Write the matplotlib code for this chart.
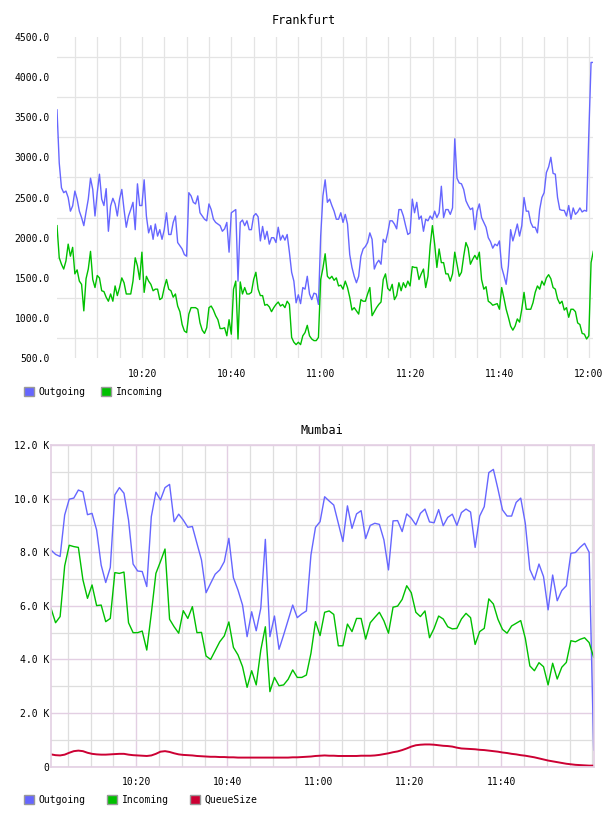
import matplotlib
matplotlib.use('Agg')
import matplotlib.pyplot as plt
import matplotlib.dates as mdates
from matplotlib.patches import Patch
from matplotlib.ticker import MultipleLocator, FuncFormatter, FixedLocator
import pandas as pd

# Frankfurt, sampled every 30 s
fra_time = pd.date_range('2024-01-01 10:00:58', periods=241, freq='30s')
fra_out = [
    3590, 2930, 2620, 2560, 2580, 2500, 2330, 2395, 2580, 2480,
    2330, 2250, 2150, 2320, 2480, 2740, 2600, 2270, 2560, 2790,
    2480, 2400, 2610, 2080, 2395, 2490, 2420, 2270, 2480, 2600,
    2350, 2130, 2270, 2350, 2440, 2100, 2670, 2400, 2400, 2720,
    2270, 2060, 2150, 1980, 2170, 2020, 2100, 1980, 2100, 2310,
    2040, 2040, 2190, 2270, 1940, 1900, 1860, 1790, 1770, 2560,
    2520, 2440, 2420, 2520, 2310, 2270, 2230, 2210, 2420, 2350,
    2230, 2190, 2170, 2150, 2080, 2110, 2190, 1820, 2310, 2330,
    2350, 1460, 2190, 2220, 2150, 2210, 2100, 2100, 2270, 2300,
    2260, 1960, 2140, 1980, 2080, 1920, 2000, 2000, 1940, 2130,
    1970, 2030, 1970, 2040, 1820, 1570, 1460, 1190, 1290, 1180,
    1380, 1360, 1520, 1300, 1230, 1310, 1300, 1170, 2020, 2520,
    2720, 2440, 2480, 2400, 2330, 2230, 2230, 2310, 2190, 2290,
    2170, 1790, 1630, 1520, 1440, 1520, 1770, 1860, 1890, 1940,
    2060, 1980, 1610, 1680, 1720, 1670, 1980, 1940, 2060, 2210,
    2210, 2170, 2110, 2350, 2350, 2270, 2150, 2040, 2060, 2480,
    2310, 2440, 2230, 2270, 2080, 2230, 2210, 2270, 2230, 2330,
    2250, 2310, 2640, 2250, 2350, 2350, 2290, 2370, 3230, 2740,
    2680, 2670, 2600, 2460, 2400, 2350, 2370, 2100, 2330, 2420,
    2250, 2190, 2130, 2000, 1950, 1870, 1920, 1900, 1960, 1630,
    1530, 1420, 1650, 2100, 1960, 2060, 2170, 2020, 2150, 2500,
    2330, 2330, 2190, 2130, 2130, 2060, 2350, 2500, 2560, 2810,
    2880, 3000, 2800, 2790, 2500, 2350, 2340, 2340, 2270, 2400,
    2230, 2370, 2290, 2320, 2370, 2320, 2340, 2330, 3300, 4180, 4180,
]
fra_in = [
    2150, 1750, 1670, 1610, 1710, 1920, 1770, 1880, 1550, 1600,
    1460, 1420, 1090, 1490, 1610, 1830, 1480, 1380, 1530, 1500,
    1340, 1330, 1260, 1210, 1300, 1210, 1400, 1280, 1380, 1500,
    1440, 1300, 1300, 1300, 1460, 1750, 1650, 1480, 1820, 1320,
    1520, 1460, 1420, 1340, 1360, 1360, 1230, 1250, 1380, 1480,
    1360, 1340, 1260, 1300, 1150, 1080, 920, 840, 820, 1050,
    1130, 1130, 1130, 1110, 940, 850, 810, 880, 1130, 1150,
    1100, 1030, 980, 870, 870, 880, 780, 980, 800, 1360,
    1460, 740, 1450, 1300, 1380, 1300, 1300, 1320, 1480, 1570,
    1360, 1280, 1280, 1160, 1170, 1140, 1080, 1130, 1170, 1200,
    1150, 1170, 1130, 1210, 1170, 760, 700, 670, 700, 670,
    780, 820, 910, 780, 740, 720, 720, 760, 1480, 1620,
    1800, 1520, 1490, 1520, 1470, 1500, 1400, 1410, 1360, 1460,
    1380, 1260, 1100, 1130, 1090, 1050, 1230, 1210, 1210, 1300,
    1380, 1030, 1080, 1130, 1170, 1200, 1480, 1550, 1370, 1340,
    1420, 1230, 1280, 1440, 1340, 1440, 1380, 1460, 1400, 1640,
    1630, 1630, 1480, 1550, 1610, 1380, 1520, 1900, 2150, 1920,
    1630, 1860, 1690, 1690, 1550, 1550, 1460, 1550, 1820, 1670,
    1520, 1570, 1770, 1940, 1870, 1670, 1730, 1780, 1730, 1820,
    1480, 1360, 1390, 1210, 1190, 1160, 1170, 1180, 1110, 1380,
    1250, 1110, 1010, 900, 850, 900, 990, 950, 1110, 1320,
    1110, 1110, 1110, 1190, 1320, 1400, 1360, 1460, 1410, 1500,
    1540, 1490, 1380, 1360, 1240, 1180, 1210, 1100, 1130, 1010,
    1110, 1110, 1080, 940, 920, 810, 800, 740, 780, 1690, 1830,
]

# Mumbai, sampled every minute, values in K
mum_time = pd.date_range('2024-01-01 10:01:18', periods=120, freq='60s')
mum_out = [
    8.08, 7.92, 7.84, 9.39, 9.98, 10.02, 10.32, 10.25, 9.40, 9.45,
    8.83, 7.52, 6.87, 7.43, 10.14, 10.41, 10.20, 9.20, 7.56, 7.30,
    7.28, 6.72, 9.33, 10.24, 9.95, 10.41, 10.53, 9.14, 9.42, 9.20,
    8.93, 8.96, 8.33, 7.71, 6.49, 6.84, 7.18, 7.34, 7.65, 8.52,
    7.05, 6.59, 6.03, 4.85, 5.78, 5.07, 5.91, 8.48, 4.85, 5.62,
    4.38, 4.91, 5.47, 6.03, 5.56, 5.70, 5.81, 7.90, 8.93, 9.14,
    10.07, 9.91, 9.76, 9.08, 8.40, 9.73, 8.89, 9.43, 9.55, 8.51,
    9.00, 9.08, 9.04, 8.46, 7.34, 9.17, 9.18, 8.77, 9.43, 9.27,
    9.02, 9.45, 9.61, 9.13, 9.10, 9.59, 8.99, 9.30, 9.42, 9.00,
    9.48, 9.61, 9.50, 8.18, 9.35, 9.70, 10.97, 11.09, 10.36, 9.58,
    9.35, 9.35, 9.86, 10.02, 9.08, 7.36, 6.97, 7.56, 7.09, 5.85,
    7.15, 6.19, 6.57, 6.75, 7.96, 7.99, 8.18, 8.33, 8.00, 0.62,
]
mum_in = [
    5.91, 5.37, 5.60, 7.49, 8.26, 8.21, 8.18, 6.97, 6.28, 6.78,
    6.01, 6.03, 5.41, 5.53, 7.24, 7.21, 7.26, 5.37, 5.00, 5.00,
    5.06, 4.35, 5.72, 7.21, 7.65, 8.12, 5.50, 5.22, 4.98, 5.82,
    5.53, 5.97, 5.00, 5.01, 4.13, 4.00, 4.33, 4.66, 4.88, 5.40,
    4.45, 4.17, 3.73, 2.96, 3.58, 3.05, 4.35, 5.22, 2.80, 3.33,
    3.02, 3.05, 3.26, 3.61, 3.33, 3.33, 3.42, 4.23, 5.41, 4.89,
    5.76, 5.81, 5.68, 4.51, 4.51, 5.32, 5.04, 5.53, 5.53, 4.76,
    5.37, 5.57, 5.76, 5.44, 4.98, 5.95, 5.99, 6.24, 6.75, 6.49,
    5.76, 5.60, 5.81, 4.81, 5.16, 5.62, 5.51, 5.22, 5.14, 5.16,
    5.51, 5.72, 5.56, 4.56, 5.04, 5.16, 6.26, 6.07, 5.50, 5.12,
    4.98, 5.25, 5.35, 5.45, 4.79, 3.76, 3.58, 3.88, 3.73, 3.05,
    3.86, 3.27, 3.71, 3.89, 4.70, 4.66, 4.75, 4.81, 4.63, 4.08,
]
mum_queue = [
    0.46, 0.43, 0.42, 0.45, 0.52, 0.58, 0.60, 0.58, 0.52, 0.48,
    0.46, 0.45, 0.45, 0.46, 0.47, 0.48, 0.48, 0.45, 0.43, 0.42,
    0.41, 0.40, 0.42, 0.48, 0.56, 0.58, 0.55, 0.50, 0.46, 0.44,
    0.43, 0.42, 0.40, 0.39, 0.38, 0.37, 0.37, 0.36, 0.36, 0.35,
    0.35, 0.34, 0.34, 0.34, 0.34, 0.34, 0.34, 0.34, 0.34, 0.34,
    0.34, 0.34, 0.34, 0.35, 0.35, 0.36, 0.37, 0.38, 0.40, 0.41,
    0.42, 0.41, 0.41, 0.40, 0.40, 0.40, 0.40, 0.40, 0.41, 0.41,
    0.41, 0.42, 0.44, 0.47, 0.50, 0.54, 0.57, 0.62, 0.68, 0.75,
    0.80, 0.82, 0.83, 0.83, 0.82, 0.80, 0.78, 0.77, 0.75, 0.71,
    0.68, 0.67, 0.66, 0.65, 0.63, 0.62, 0.60, 0.58, 0.56, 0.53,
    0.51, 0.48, 0.46, 0.43, 0.41, 0.38, 0.35, 0.31, 0.27, 0.23,
    0.20, 0.17, 0.14, 0.11, 0.09, 0.07, 0.06, 0.05, 0.04, 0.04,
]
mum_ticks = ['10:20', '10:40', '11:00', '11:20', '11:40']

BLUE = '#6666ff'
GREEN = '#00c000'
RED = '#cc0033'
GRID = '#e4e4e4'
PURPLE = '#e3cfe3'
MONO = 'DejaVu Sans Mono'

W, H = 608, 816
fig = plt.figure(figsize=(W / 100, H / 100), dpi=100)


def box(l, t, r, b):
    return [l / W, 1 - b / H, (r - l) / W, (b - t) / H]


# ---- Frankfurt ----
ax1 = fig.add_axes(box(57, 36.7, 593.3, 358.3))
ax1.plot(fra_time, fra_out, color=BLUE, lw=1.0)
ax1.plot(fra_time, fra_in, color=GREEN, lw=1.0)
ax1.set_xlim(fra_time[0], fra_time[-1])
ax1.set_ylim(500, 4500)
ax1.yaxis.set_major_locator(MultipleLocator(500))
ax1.yaxis.set_major_formatter(FuncFormatter(lambda v, p: '%.1f' % v))
ax1.yaxis.set_minor_locator(MultipleLocator(500, offset=250))
ax1.xaxis.set_major_locator(mdates.MinuteLocator(byminute=[0, 20, 40]))
ax1.xaxis.set_minor_locator(mdates.MinuteLocator(byminute=range(0, 60, 5)))
ax1.xaxis.set_major_formatter(mdates.DateFormatter('%H:%M'))
ax1.grid(True, axis='x', which='both', color=GRID, lw=0.9)
ax1.grid(True, axis='y', which='minor', color=GRID, lw=0.9)
ax1.set_axisbelow(True)
for s in ax1.spines.values():
    s.set_visible(False)
ax1.tick_params(which='both', length=0)
ax1.tick_params(axis='y', pad=5)
ax1.tick_params(axis='x', pad=8)

# ---- Mumbai ----
ax2 = fig.add_axes(box(51, 445, 593.7, 766.7))
ax2.plot(mum_time, mum_out, color=BLUE, lw=1.0)
ax2.plot(mum_time, mum_in, color=GREEN, lw=1.0)
ax2.plot(mum_time, mum_queue, color=RED, lw=1.4)
ax2.set_xlim(mum_time[0], mum_time[-1])
ax2.set_ylim(0, 12)
ax2.yaxis.set_major_locator(MultipleLocator(2))
ax2.yaxis.set_minor_locator(MultipleLocator(1))
ax2.yaxis.set_major_formatter(FuncFormatter(lambda v, p: '0' if v == 0 else '%.1f K' % v))
tick_dates = [pd.Timestamp('2024-01-01 ' + t) for t in mum_ticks]
ax2.xaxis.set_major_locator(FixedLocator(mdates.date2num(tick_dates)))
ax2.xaxis.set_minor_locator(mdates.MinuteLocator(byminute=range(0, 60, 5)))
ax2.xaxis.set_major_formatter(mdates.DateFormatter('%H:%M'))
ax2.grid(True, which='major', color=PURPLE, lw=1.0)
ax2.grid(True, which='minor', color='#dedede', lw=0.9)
ax2.set_axisbelow(True)
for s in ax2.spines.values():
    s.set_color(PURPLE)
    s.set_linewidth(1.2)
ax2.tick_params(which='both', length=0)
ax2.tick_params(axis='y', pad=1)
ax2.tick_params(axis='x', pad=7.5)

for ax in (ax1, ax2):
    for lab in ax.get_xticklabels() + ax.get_yticklabels():
        lab.set_fontfamily(MONO)
        lab.set_fontsize(7)

fig.text(304 / W, 1 - 20 / H, 'Frankfurt', ha='center', va='center',
         fontsize=8.5, family=MONO)
fig.text(322 / W, 1 - 430 / H, 'Mumbai', ha='center', va='center',
         fontsize=8.5, family=MONO)

edge = '#999999'
leg_kw = dict(loc='center left', frameon=False, handlelength=1.0, handleheight=1.0,
              handletextpad=0.5, borderpad=0, borderaxespad=0,
              prop={'family': MONO, 'size': 7})
fig.legend(handles=[Patch(facecolor=BLUE, edgecolor=edge, label='Outgoing'),
                    Patch(facecolor=GREEN, edgecolor=edge, label='Incoming')],
           bbox_to_anchor=(24 / W, 1 - 392 / H), ncol=2, columnspacing=1.6, **leg_kw)
fig.legend(handles=[Patch(facecolor=BLUE, edgecolor=edge, label='Outgoing'),
                    Patch(facecolor=GREEN, edgecolor=edge, label='Incoming'),
                    Patch(facecolor=RED, edgecolor=edge, label='QueueSize')],
           bbox_to_anchor=(24 / W, 1 - 800 / H), ncol=3, columnspacing=2.2, **leg_kw)

fig.savefig('out.png', dpi=100, facecolor='white')
